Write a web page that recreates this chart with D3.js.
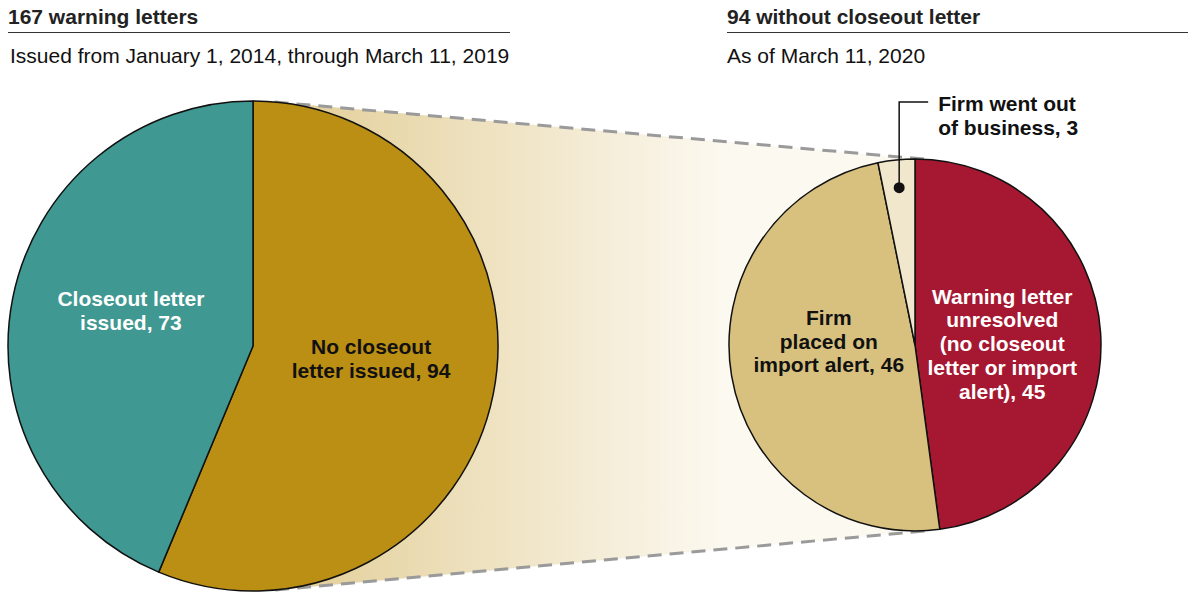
<!DOCTYPE html>
<html>
<head>
<meta charset="utf-8">
<script src="https://cdn.jsdelivr.net/npm/d3@7"></script>
<style>
  body { margin: 0; background: #fff; }
  svg { display: block; font-family: 'Liberation Sans', Arial, sans-serif; }
</style>
</head>
<body>
<div id="chart"></div>
<script>
// Data
var leftLabels = [['No closeout', 'letter issued, 94'], ['Closeout letter', 'issued, 73']],
    leftValues = [94, 73],
    leftColors = ['#bb8e14', '#3f9891'],
    leftInk = ['#111', '#fff'],
    rightLabels = [['Warning letter', 'unresolved', '(no closeout', 'letter or import', 'alert), 45'],
                   ['Firm', 'placed on', 'import alert, 46'],
                   ['Firm went out', 'of business, 3']],
    rightValues = [45, 46, 3],
    rightColors = ['#a61831', '#d8c17f', '#f1e7cd'],
    rightInk = ['#fff', '#111', '#111'],
    titles = ['167 warning letters', '94 without closeout letter'],
    subtitles = ['Issued from January 1, 2014, through March 11, 2019', 'As of March 11, 2020'];

var width = 1188, height = 593;

var svg = d3.select('#chart').append('svg')
    .attr('width', width)
    .attr('height', height);

// Pies
var left = { cx: 253, cy: 346, r: 245 },
    right = { cx: 915, cy: 345, r: 186 };

var pie = d3.pie().sort(null).startAngle(0).endAngle(2 * Math.PI);

// Zoom band (outer tangents between the two circles)
var dx = right.cx - left.cx, dy = right.cy - left.cy,
    dist = Math.sqrt(dx * dx + dy * dy),
    base = Math.atan2(dy, dx),
    off = Math.acos((left.r - right.r) / dist);

function tangent(sign) {
    let a = base + sign * off;
    return [[left.cx + left.r * Math.cos(a), left.cy + left.r * Math.sin(a)],
            [right.cx + right.r * Math.cos(a), right.cy + right.r * Math.sin(a)]];
}
var topSeg = tangent(-1), bottomSeg = tangent(1);

var defs = svg.append('defs');
var grad = defs.append('linearGradient')
    .attr('id', 'band')
    .attr('gradientUnits', 'userSpaceOnUse')
    .attr('x1', left.cx + 40).attr('y1', 0)
    .attr('x2', right.cx - right.r).attr('y2', 0);
grad.append('stop').attr('offset', 0).attr('stop-color', '#e3cf99');
grad.append('stop').attr('offset', 1).attr('stop-color', '#fcf9f1');

svg.append('path')
    .attr('d', d3.line()([topSeg[0], topSeg[1], [right.cx, right.cy], bottomSeg[1], bottomSeg[0], [left.cx, left.cy]]) + 'Z')
    .attr('fill', 'url(#band)');

[topSeg, bottomSeg].forEach(seg => {
    svg.append('line')
        .attr('x1', seg[0][0]).attr('y1', seg[0][1])
        .attr('x2', seg[1][0]).attr('y2', seg[1][1])
        .attr('stroke', '#9a9a9a')
        .attr('stroke-width', 3)
        .attr('stroke-dasharray', '14,8');
});

function drawPie(p, values, colors) {
    let arc = d3.arc().innerRadius(0).outerRadius(p.r);
    let g = svg.append('g').attr('transform', 'translate(' + p.cx + ',' + p.cy + ')');
    let arcs = pie(values);
    g.selectAll('path')
        .data(arcs)
        .enter().append('path')
        .attr('d', arc)
        .attr('fill', (a, i) => colors[i])
        .attr('stroke', '#111')
        .attr('stroke-width', 1.5)
        .attr('stroke-linejoin', 'round');
    return { g: g, arcs: arcs };
}

function labelAt(g, lines, x, y, ink, anchor) {
    let lh = 23.7;
    let t = g.append('text')
        .attr('text-anchor', anchor || 'middle')
        .attr('font-size', 21)
        .attr('font-weight', 'bold')
        .attr('fill', ink);
    let y0 = y - (lines.length - 1) * lh / 2 + 7;
    lines.forEach((s, i) => {
        t.append('tspan').attr('x', x).attr('y', y0 + i * lh).text(s);
    });
}

function polar(a, rad) {
    return [Math.sin(a) * rad, -Math.cos(a) * rad];
}

var L = drawPie(left, leftValues, leftColors);
L.arcs.forEach((a, i) => {
    let c = polar((a.startAngle + a.endAngle) / 2, left.r * 0.5);
    labelAt(L.g, leftLabels[i], c[0] - 2, c[1] - 11, leftInk[i]);
});

var R = drawPie(right, rightValues, rightColors);
R.arcs.forEach((a, i) => {
    let mid = (a.startAngle + a.endAngle) / 2;
    if (i === 2) {
        // leader for the small slice
        let c = polar(mid, right.r * 0.85),
            ty = -right.r - 57;
        R.g.append('path')
            .attr('d', d3.line()([[c[0], c[1]], [c[0], ty], [c[0] + 29, ty]]))
            .attr('fill', 'none')
            .attr('stroke', '#111')
            .attr('stroke-width', 1.5);
        R.g.append('circle')
            .attr('cx', c[0]).attr('cy', c[1])
            .attr('r', 5.5)
            .attr('fill', '#111');
        labelAt(R.g, rightLabels[i], c[0] + 39, ty + 14, rightInk[i], 'start');
        return;
    }
    let c = polar(mid, right.r * 0.47);
    if (i === 1) c[1] -= 18;
    else c[1] += 5;
    labelAt(R.g, rightLabels[i], c[0], c[1], rightInk[i]);
});

// Headers
var heads = [{ x: 8, x2: 510, sx: 10 }, { x: 727, x2: 1188, sx: 727 }];
heads.forEach((h, i) => {
    svg.append('text')
        .attr('x', h.x).attr('y', 24)
        .attr('font-size', 21)
        .attr('font-weight', 'bold')
        .attr('fill', '#222')
        .text(titles[i]);
    svg.append('line')
        .attr('x1', h.x).attr('x2', h.x2)
        .attr('y1', 32.5).attr('y2', 32.5)
        .attr('stroke', '#333')
        .attr('stroke-width', 1.2);
    svg.append('text')
        .attr('x', h.sx).attr('y', 63)
        .attr('font-size', 21)
        .attr('fill', '#111')
        .text(subtitles[i]);
});
</script>
</body>
</html>
